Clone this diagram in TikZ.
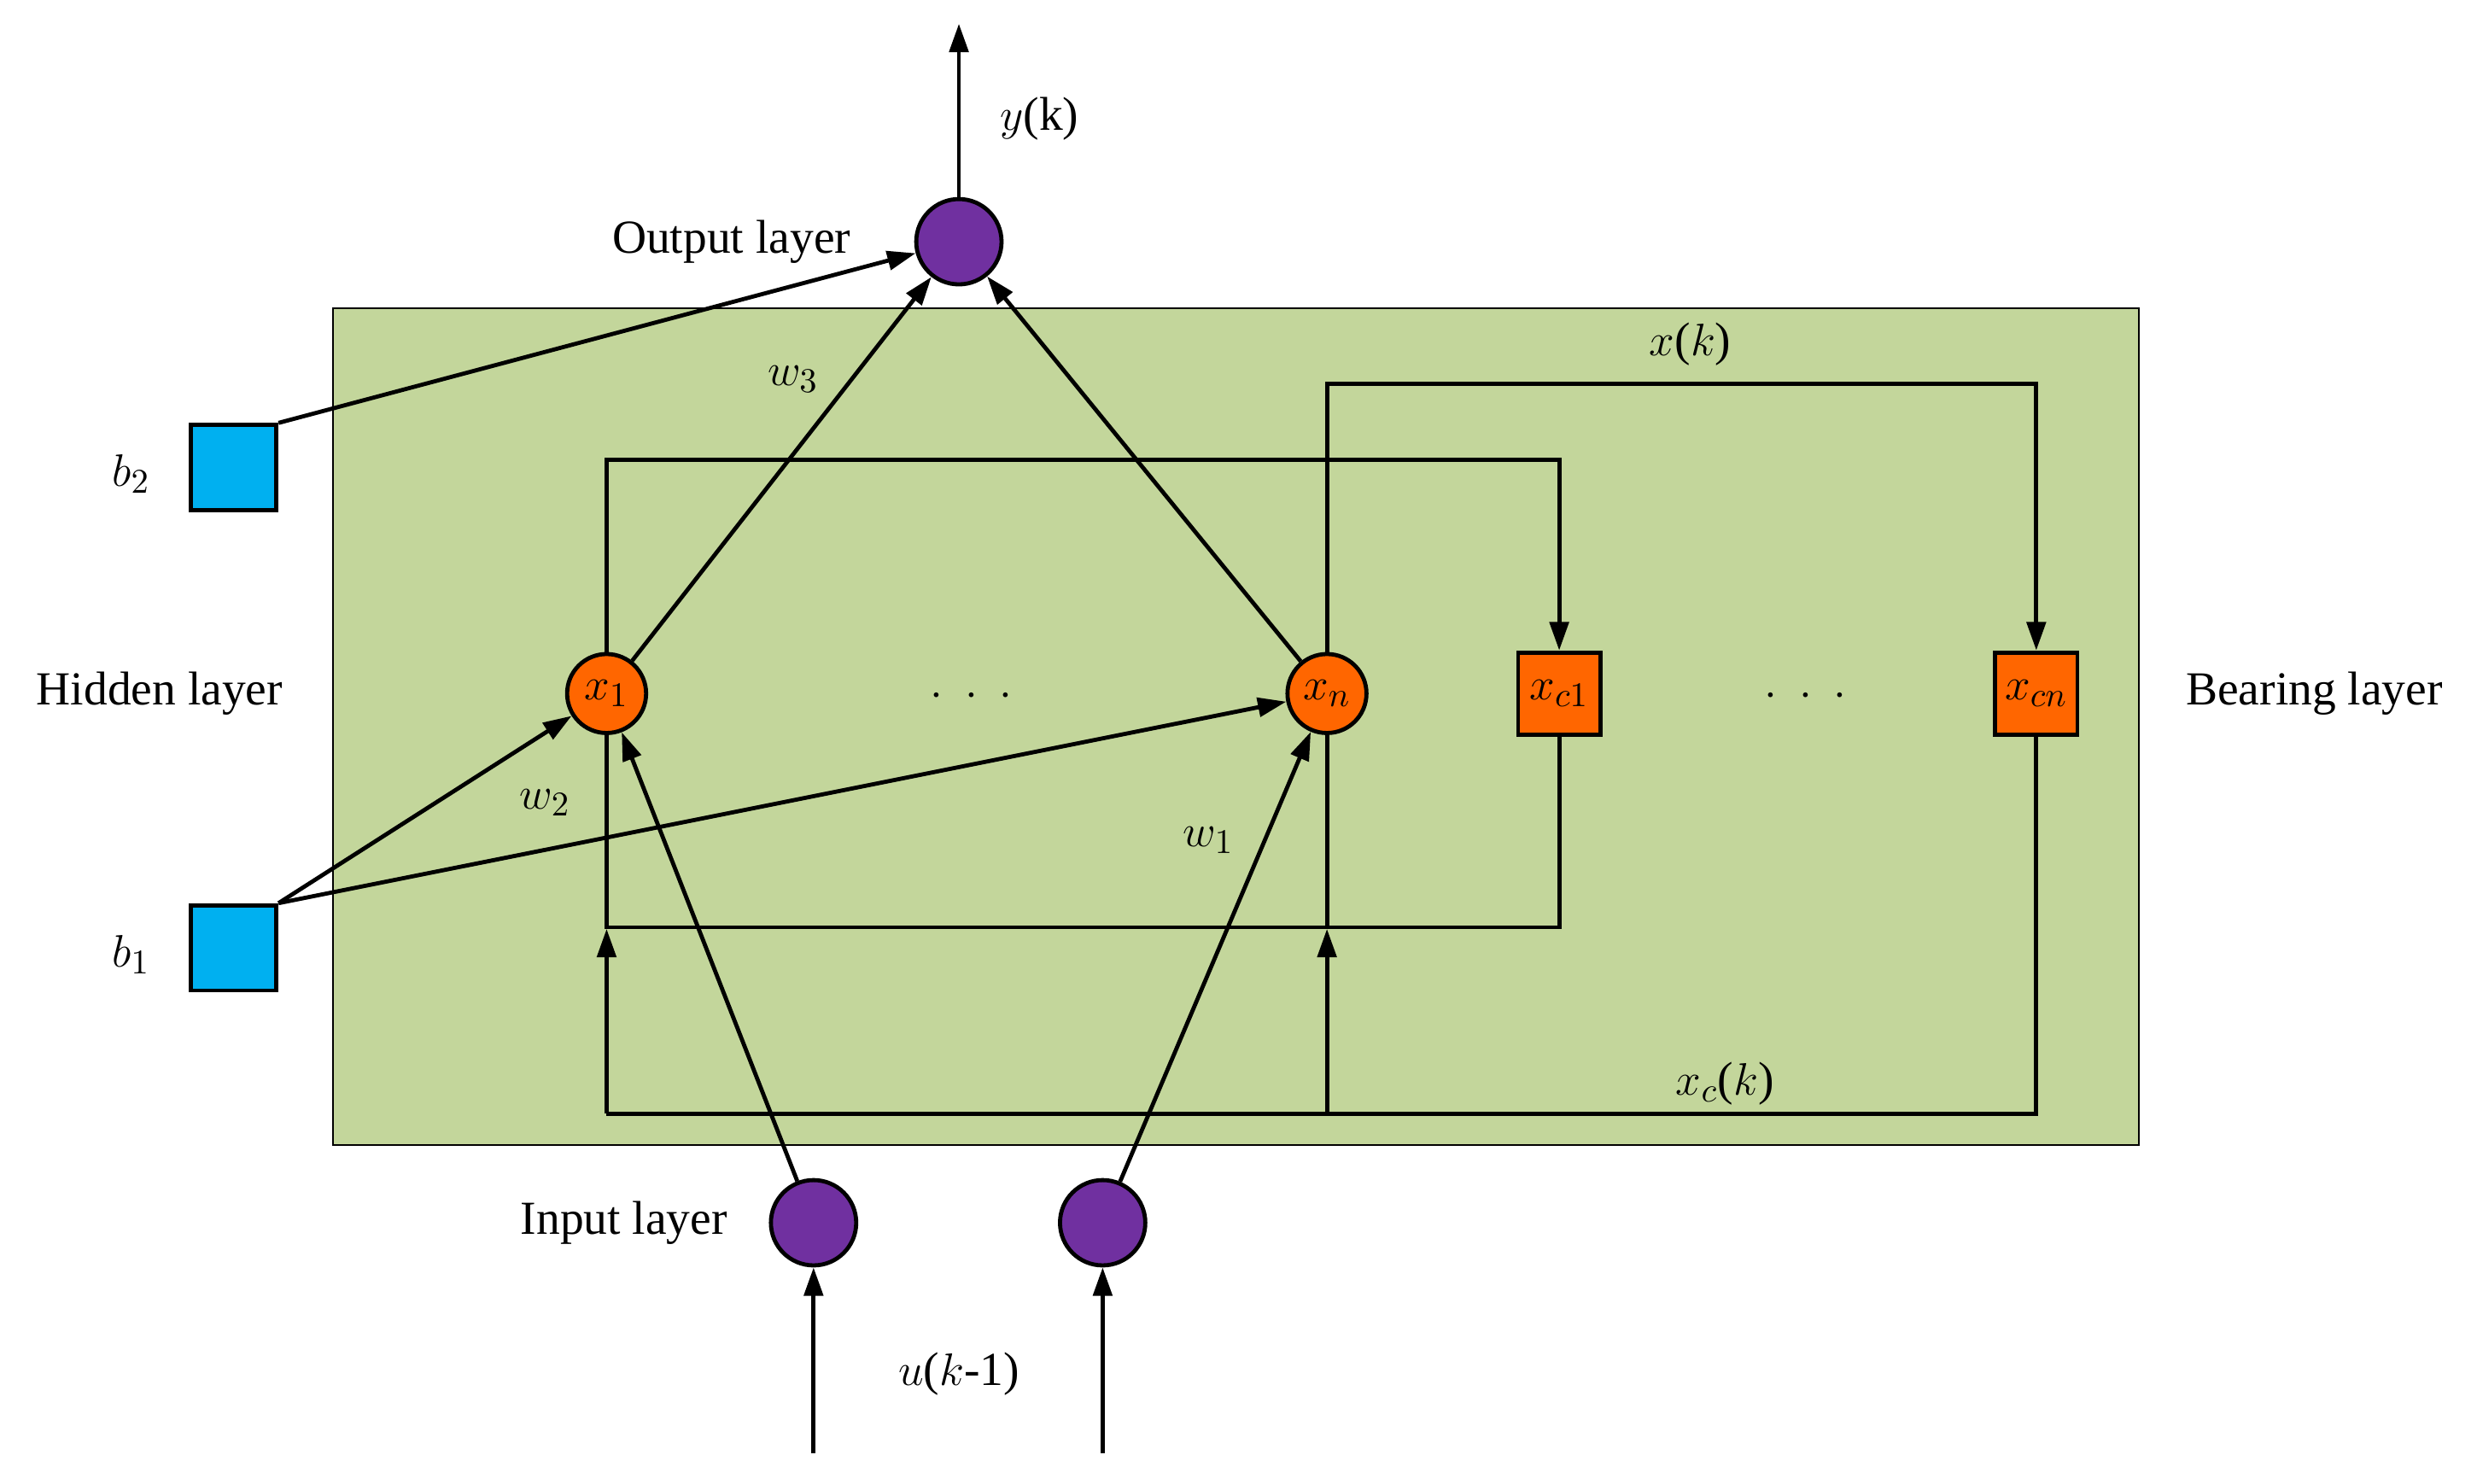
\documentclass[tikz,border=0pt]{standalone}
\usepackage{fontspec}
\setmainfont{Liberation Serif}
\usetikzlibrary{arrows.meta}
\definecolor{bg}{RGB}{195,214,155}
\definecolor{pur}{RGB}{112,48,160}
\definecolor{org}{RGB}{255,102,0}
\definecolor{cya}{RGB}{0,176,240}
\begin{document}
\begin{tikzpicture}[x=0.5pt,y=-0.5pt,line width=1.3pt,>={Triangle[length=9pt,width=6pt]},
 font=\fontsize{15}{18}\selectfont,
 pnode/.style={circle,draw,fill=pur,minimum size=27pt,inner sep=0pt},
 onode/.style={circle,draw,fill=org,minimum size=25pt,inner sep=0pt},
 orect/.style={rectangle,draw,fill=org,minimum size=26pt,inner sep=0pt},
 bsq/.style={rectangle,draw,fill=cya,minimum size=27pt,inner sep=0pt},
 lbl/.style={inner sep=1pt}]
\useasboundingbox (0,0) rectangle (1568,939);
\fill[bg,draw=black,line width=0.6pt] (211,195) rectangle (1354,725);
\node[pnode] (out) at (607,153) {};
\coordinate (top) at (607,15);
\node[bsq] (b2) at (148,296) {};
\node[bsq] (b1) at (148,600) {};
\node[onode] (x1) at (384,439) {$x_1$};
\node[onode] (xn) at (840,439) {$x_n$};
\node[orect] (xc1) at (987,439) {$x_{c1}$};
\node[orect] (xcn) at (1289,439) {$x_{cn}$};
\node[pnode] (i1) at (515,774) {};
\node[pnode] (i2) at (698,774) {};
\coordinate (u1) at (515,920);
\coordinate (u2) at (698,920);
\node[lbl] at (615,441) {$\cdot\ \cdot\ \cdot$};
\node[lbl] at (1143,441) {$\cdot\ \cdot\ \cdot$};
\node[lbl] at (658,75) {$y$(k)};
\node[lbl] at (463,153) {Output layer};
\node[lbl] at (83,300) {$b_2$};
\node[lbl] at (83,604) {$b_1$};
\node[lbl] at (101,439) {Hidden layer};
\node[lbl] at (1465,439) {Bearing layer};
\node[lbl] at (395,774) {Input layer};
\node[lbl] at (607,870) {$u$($k$-1)};
\node[lbl] at (502,240) {$w_3$};
\node[lbl] at (345,508) {$w_2$};
\node[lbl] at (765,532) {$w_1$};
\node[lbl] at (1070,218) {$x$($k$)};
\node[lbl] at (1092,686) {$x_c$($k$)};
\draw[->] (out) -- (top);
\draw[->] (b2.north east) -- (out);
\draw[->] (x1) -- (out);
\draw[->] (xn) -- (out);
\draw[->] (x1.north) -- (384,291) -| (xc1.north);
\draw[->] (xn.north) -- (840,243) -| (xcn.north);
\draw (xc1.south) |- (384,587);
\draw (xcn.south) |- (384,705);
\draw[->] (384,705) -- (384,588);
\draw[->] (840,705) -- (840,588);
\draw (384,588) -- (x1.south);
\draw (840,588) -- (xn.south);
\draw[->] (b1.north east) -- (x1);
\draw[->] (b1.north east) -- (xn);
\draw[->] (i1) -- (x1);
\draw[->] (i2) -- (xn);
\draw[->] (u1) -- (i1);
\draw[->] (u2) -- (i2);
\end{tikzpicture}
\end{document}
